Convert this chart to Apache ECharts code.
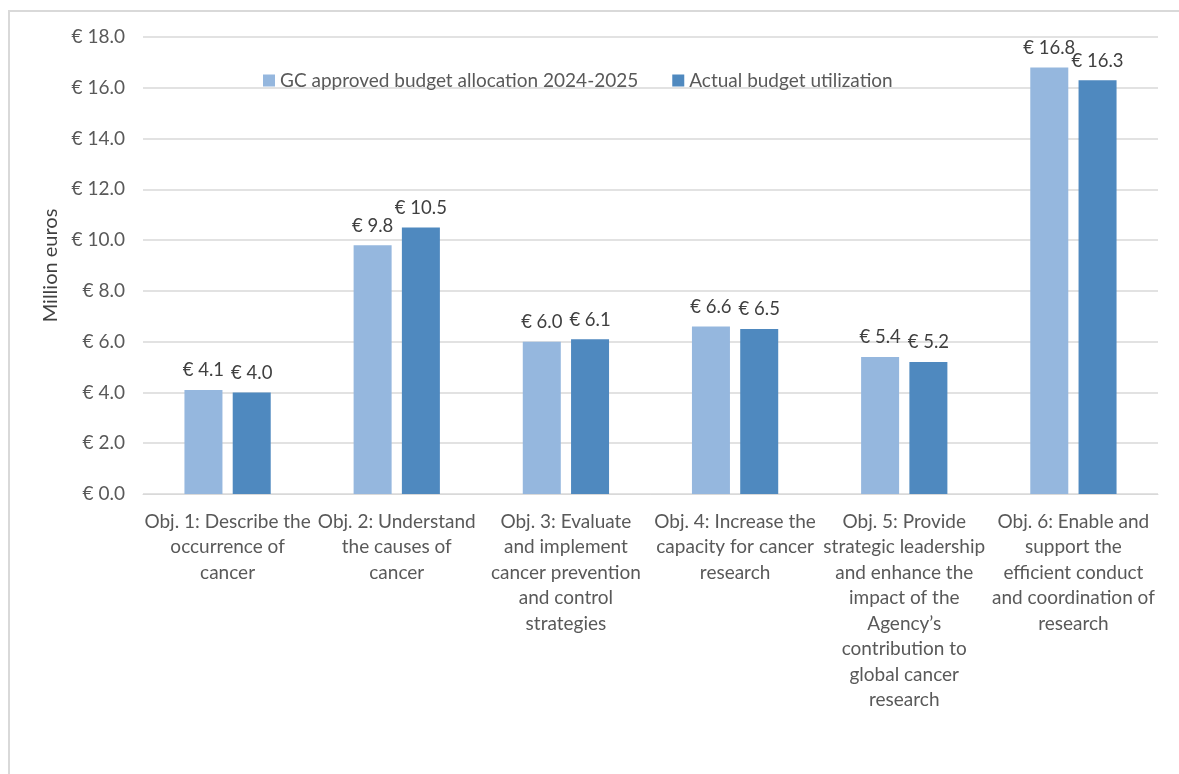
<!DOCTYPE html>
<html lang="en" style="height: 100%">
<head>
  <meta charset="utf-8">
</head>
<body style="height: 100%; margin: 0; background: #fff">
  <div id="frame" style="position: absolute; left: 8px; top: 10px; right: -10px; bottom: -10px; border: 2px solid #d9d9d9;"></div>
  <div id="container" style="position: absolute; left: 0; top: 0; width: 1179px; height: 774px;"></div>

  <script type="text/javascript" src="https://fastly.jsdelivr.net/npm/echarts@6/dist/echarts.min.js"></script>
  <script type="text/javascript">
    // categories and values
    var categories = [
      'Obj. 1: Describe the\noccurrence of\ncancer',
      'Obj. 2: Understand\nthe causes of\ncancer',
      'Obj. 3: Evaluate\nand implement\ncancer prevention\nand control\nstrategies',
      'Obj. 4: Increase the\ncapacity for cancer\nresearch',
      'Obj. 5: Provide\nstrategic leadership\nand enhance the\nimpact of the\nAgency\u2019s\ncontribution to\nglobal cancer\nresearch',
      'Obj. 6: Enable and\nsupport the\nefficient conduct\nand coordination of\nresearch'
    ];
    var approved = [4.1, 9.8, 6.0, 6.6, 5.4, 16.8];
    var actual = [4.0, 10.5, 6.1, 6.5, 5.2, 16.3];
    var seriesNames = ['GC approved budget allocation 2024-2025', 'Actual budget utilization'];

    var font = 'Lato, "Open Sans", sans-serif';
    var dom = document.getElementById('container');
    var myChart = echarts.init(dom, null, { renderer: 'canvas' });

    var labelOpt = {
      show: true,
      position: 'top',
      distance: 10,
      color: '#404040',
      fontSize: 18.5,
      fontFamily: font,
      formatter: function (p) { return '\u20ac ' + p.value.toFixed(1); }
    };

    var option = {
      animation: false,
      backgroundColor: 'transparent',
      grid: { left: 143, right: 21, top: 37, bottom: 280 },
      legend: {
        top: 66,
        left: 258,
        itemWidth: 12,
        itemHeight: 12,
        itemGap: 34,
        icon: 'rect',
        textStyle: { color: '#595959', fontSize: 19, fontFamily: font },
        data: seriesNames
      },
      xAxis: {
        type: 'category',
        data: categories,
        axisLine: { lineStyle: { color: '#d9d9d9', width: 1 } },
        axisTick: { show: false },
        axisLabel: {
          interval: 0,
          color: '#595959',
          fontSize: 19,
          fontFamily: font,
          lineHeight: 25.5,
          margin: 15
        }
      },
      yAxis: {
        type: 'value',
        min: 0,
        max: 18,
        interval: 2,
        name: 'Million euros',
        nameLocation: 'middle',
        nameGap: 80,
        nameTextStyle: { color: '#404040', fontSize: 20, fontFamily: font },
        axisLine: { show: false },
        axisTick: { show: false },
        splitLine: { lineStyle: { color: '#d9d9d9', width: 1.5 } },
        axisLabel: {
          color: '#595959',
          fontSize: 19,
          fontFamily: font,
          margin: 18,
          formatter: function (v) { return '\u20ac ' + v.toFixed(1); }
        }
      },
      series: [
        {
          name: seriesNames[0],
          type: 'bar',
          data: approved,
          itemStyle: { color: '#95b7de' },
          barGap: '27%',
          barCategoryGap: '49%',
          label: labelOpt
        },
        {
          name: seriesNames[1],
          type: 'bar',
          data: actual,
          itemStyle: { color: '#4f89bf' },
          label: labelOpt
        }
      ]
    };

    myChart.setOption(option);
    window.addEventListener('resize', myChart.resize);
  </script>
</body>
</html>
